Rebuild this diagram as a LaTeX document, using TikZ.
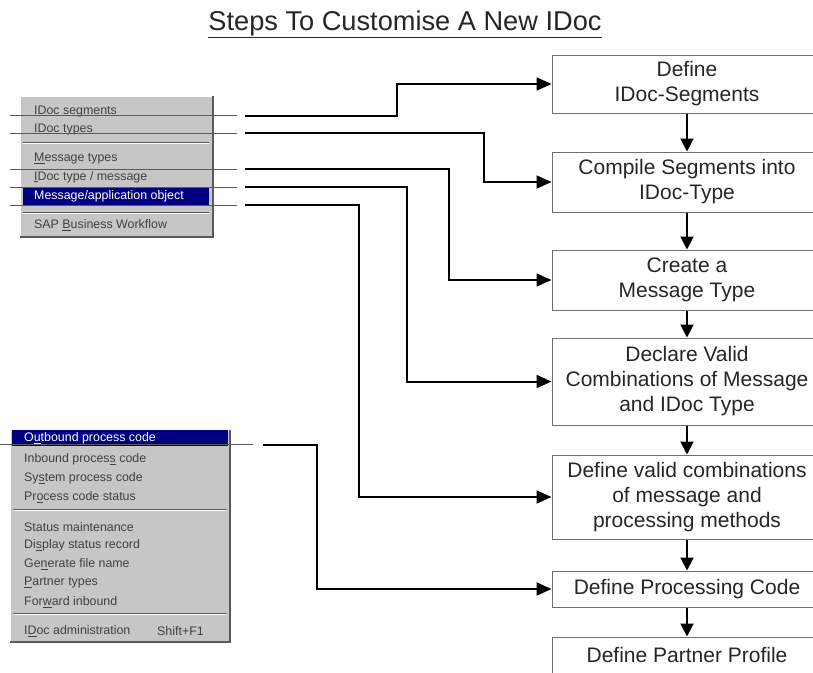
\documentclass[tikz,border=0pt]{standalone}
\usepackage{fontspec}
\setmainfont{Liberation Sans}
\usetikzlibrary{arrows.meta}
\definecolor{menugray}{HTML}{C6C6C6}
\definecolor{menudark}{HTML}{5A5A5A}
\definecolor{menublue}{HTML}{000080}
\definecolor{boxline}{HTML}{6E6E6E}
\newcommand\mk[1]{\underline{#1}}
\tikzset{
  stepbox/.style={draw=boxline, line width=1pt, fill=white, minimum width=270pt,
    align=center, font=\fontsize{21}{25}\selectfont, text=black!85, inner sep=0pt},
  conn/.style={line width=2pt, -{Triangle[length=15pt,width=13pt]}},
  down/.style={line width=2pt, -{Triangle[length=13pt,width=13pt]}},
  menuitem/.style={anchor=west, font=\fontsize{12.4}{14}\selectfont, text=black!75, inner sep=0pt},
  hiitem/.style={menuitem, text=white},
  guide/.style={draw=menudark, line width=0.8pt},
}
\begin{document}
\begin{tikzpicture}[x=1pt,y=-1pt]
\useasboundingbox (0,0) rectangle (813,672);

% title
\node[font=\fontsize{27.2}{30}\selectfont, text=black!85, anchor=base, inner sep=0pt]
  (title) at (405,30) {\underline{Steps To Customise A New IDoc}};

% ---------- upper menu ----------
\fill[menugray] (20,96) rectangle (213,237);
\draw[white, line width=1pt] (20,237) -- (20,96) -- (213,96);
\draw[menudark, line width=1.2pt] (20,237) -- (213,237) -- (213,96);
\fill[menublue] (23,187) rectangle (209,205);
\draw[menudark, line width=0.7pt] (23,142) -- (209,142);
\draw[white, line width=0.7pt] (23,143.5) -- (209,143.5);
\draw[menudark, line width=0.7pt] (23,212) -- (209,212);
\draw[white, line width=0.7pt] (23,213.5) -- (209,213.5);
\node[menuitem] (ua) at (34,112) {IDoc segments};
\node[menuitem] (ub) at (34,130) {IDoc types};
\node[menuitem] (uc) at (34,159) {\mk{M}essage types};
\node[menuitem] (ud) at (34,177) {\mk{I}Doc type / message};
\node[hiitem]   (ue) at (34,196) {Message/application object};
\node[menuitem] (uf) at (34,225) {SAP \mk{B}usiness Workflow};
\foreach \yy in {115,133,169,187,205}
  \draw[guide] (10,\yy) -- (237,\yy);

% ---------- lower menu ----------
\fill[menugray] (10,430) rectangle (230,642);
\draw[white, line width=1pt] (10,642) -- (10,430) -- (230,430);
\draw[menudark, line width=1.2pt] (10,642) -- (230,642) -- (230,430);
\fill[menublue] (12,430) rectangle (228,446);
\draw[menudark, line width=0.7pt] (13,509) -- (227,509);
\draw[white, line width=0.7pt] (13,510.5) -- (227,510.5);
\draw[menudark, line width=0.7pt] (13,613) -- (227,613);
\draw[white, line width=0.7pt] (13,614.5) -- (227,614.5);
\node[hiitem]   (la) at (24,438) {O\mk{u}tbound process code};
\node[menuitem] (lb) at (24,459) {Inbound proces\mk{s} code};
\node[menuitem] (lc) at (24,478) {Sy\mk{s}tem process code};
\node[menuitem] (ld) at (24,497) {Pr\mk{o}cess code status};
\node[menuitem] (le) at (24,527) {Status maintenance};
\node[menuitem] (lf) at (24,545) {Di\mk{s}play status record};
\node[menuitem] (lg) at (24,564) {Ge\mk{n}erate file name};
\node[menuitem] (lh) at (24,583) {\mk{P}artner types};
\node[menuitem] (li) at (24,602) {For\mk{w}ard inbound};
\node[menuitem] (lj) at (24,631) {I\mk{D}oc administration};
\node[menuitem] (lk) at (157,631) {Shift+F1};
\draw[guide] (0,444) -- (253,444);

% ---------- step boxes ----------
\node[stepbox, minimum height=58pt] (b1) at (687,84)    {Define\\IDoc-Segments};
\node[stepbox, minimum height=60pt] (b2) at (687,182)   {Compile Segments into\\IDoc-Type};
\node[stepbox, minimum height=60pt] (b3) at (687,280)   {Create a\\Message Type};
\node[stepbox, minimum height=87pt] (b4) at (687,381.5) {Declare Valid\\Combinations of Message\\and IDoc Type};
\node[stepbox, minimum height=84pt] (b5) at (687,497)   {Define valid combinations\\of message and\\processing methods};
\node[stepbox, minimum height=36pt] (b6) at (687,589)   {Define Processing Code};
\node[stepbox, minimum height=36pt] (b7) at (687,655)   {Define Partner Profile};

\foreach \a/\b in {b1/b2,b2/b3,b3/b4,b4/b5,b5/b6,b6/b7}
  \draw[down] (\a.south) -- (\b.north);

% ---------- connectors from the menus ----------
\coordinate (s1) at (245,116);
\coordinate (s2) at (245,133);
\coordinate (s3) at (245,169);
\coordinate (s4) at (245,187);
\coordinate (s5) at (245,205);
\coordinate (s6) at (263,445);
\draw[conn] (s1) -- ++(152,0) |- (b1.west);
\draw[conn] (s2) -- ++(239,0) |- (b2.west);
\draw[conn] (s3) -- ++(204,0) |- (b3.west);
\draw[conn] (s4) -- ++(162,0) |- (b4.west);
\draw[conn] (s5) -- ++(114,0) |- (b5.west);
\draw[conn] (s6) -- ++(54,0)  |- (b6.west);
\end{tikzpicture}
\end{document}
